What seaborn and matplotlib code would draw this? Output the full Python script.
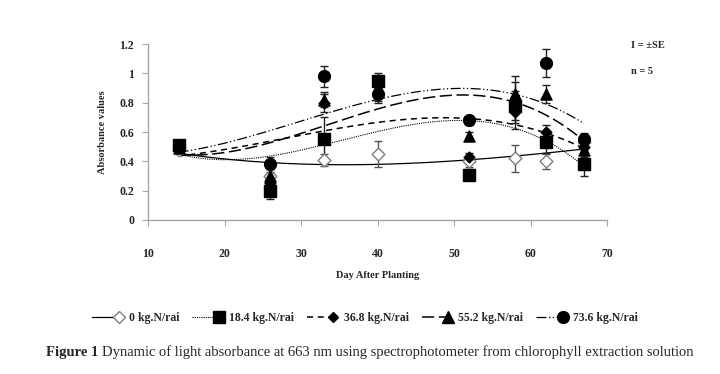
import numpy as np
import matplotlib
matplotlib.use("Agg")
import matplotlib.pyplot as plt
from matplotlib.lines import Line2D
from matplotlib.legend_handler import HandlerLine2D
import seaborn as sns

sns.set_style("white")
plt.rcParams["font.family"] = ["Liberation Serif", "DejaVu Serif"]

days = [14, 26, 33, 40, 52, 58, 62, 67]
labels = ["0 kg.N/rai", "18.4 kg.N/rai", "36.8 kg.N/rai", "55.2 kg.N/rai", "73.6 kg.N/rai"]

n0 = [0.48, 0.30, 0.41, 0.45, 0.40, 0.42, 0.40, 0.53]
n18 = [0.51, 0.20, 0.55, 0.95, 0.31, 0.78, 0.53, 0.38]
n36 = [0.50, 0.25, 0.80, 0.85, 0.43, 0.74, 0.60, 0.50]
n55 = [0.49, 0.30, 0.82, 0.90, 0.57, 0.86, 0.86, 0.48]
n73 = [0.50, 0.38, 0.98, 0.86, 0.68, 0.80, 1.07, 0.55]

se0 = [0.03, 0.05, 0.04, 0.09, 0.04, 0.09, 0.05, 0.05]
se18 = [0.03, 0.06, 0.15, 0.05, 0.04, 0.10, 0.07, 0.08]
se36 = [0.03, 0.05, 0.06, 0.05, 0.03, 0.08, 0.05, 0.05]
se55 = [0.03, 0.05, 0.05, 0.05, 0.03, 0.08, 0.06, 0.05]
se73 = [0.03, 0.05, 0.07, 0.05, 0.03, 0.18, 0.095, 0.04]

series = [n0, n18, n36, n55, n73]
errors = [se0, se18, se36, se55, se73]
markers = ["D", "s", "D", "^", "o"]
msizes = [6.5, 8.5, 5.5, 8, 8.5]
faces = ["white", "black", "black", "black", "black"]
edges = ["#7f7f7f", "black", "black", "black", "black"]
styles = ["-", (0, (1, 1)), (0, (4, 3)), (0, (8, 3)), (0, (8, 2, 1, 2, 1, 2))]
lws = [0.9, 0.8, 1.1, 1.1, 0.9]

fig = plt.figure(figsize=(7.2, 3.74), dpi=100)
ax = fig.add_axes([0.2056, 0.412, 0.6375, 0.47])

xs = np.linspace(min(days), max(days), 200)
for vals, se, m, ms, fc, ec, ls, lw in zip(series, errors, markers, msizes, faces, edges, styles, lws):
    coef = np.polyfit(days, vals, 3)
    sns.lineplot(x=xs, y=np.polyval(coef, xs), ax=ax, color="black", linestyle=ls,
                 linewidth=lw, zorder=2)
    ax.errorbar(days, vals, yerr=se, fmt="none", ecolor="#202020" if fc == "black" else "#555555",
                elinewidth=1, capsize=3, capthick=1, zorder=3)
    sns.scatterplot(x=days, y=vals, ax=ax, marker=m, s=ms ** 2, color=fc,
                    edgecolor=ec, linewidth=1, zorder=4)

ax.set_xlim(10, 70)
ax.set_ylim(0, 1.2)
ax.set_xticks(range(10, 71, 10))
ax.set_yticks([0, 0.2, 0.4, 0.6, 0.8, 1.0, 1.2])
ax.set_yticklabels(["0", "0.2", "0.4", "0.6", "0.8", "1", "1.2"])
for s in ["top", "right"]:
    ax.spines[s].set_visible(False)
for s in ["left", "bottom"]:
    ax.spines[s].set_color("#a6a6a6")
    ax.spines[s].set_linewidth(1)
ax.tick_params(axis="x", direction="out", length=4, color="#a6a6a6", pad=16,
               labelsize=8.5)
ax.tick_params(axis="y", direction="out", length=4, color="#a6a6a6", pad=6,
               labelsize=8.5)
ax.xaxis.set_ticks_position("bottom")
ax.yaxis.set_ticks_position("left")
for t in ax.get_xticklabels() + ax.get_yticklabels():
    t.set_fontweight("bold")
ax.set_xlabel("Day After Planting", fontsize=7.5, fontweight="bold", labelpad=8)
ax.set_ylabel("Absorbance values", fontsize=7.5, fontweight="bold", labelpad=9)

fig.text(0.877, 0.872, "I = \u00b1SE", fontsize=7.5, fontweight="bold")
fig.text(0.877, 0.802, "n = 5", fontsize=7.5, fontweight="bold")


# legend key: line first, marker at its right end
class RightMarker(HandlerLine2D):
    def create_artists(self, legend, orig_handle, xdescent, ydescent, width,
                       height, fontsize, trans):
        y = height / 2 - ydescent
        x0, x1 = -xdescent, -xdescent + width * 0.8
        line = Line2D([x0, x1], [y, y])
        line.update_from(orig_handle)
        line.set_marker("None")
        mk = Line2D([x1], [y])
        mk.update_from(orig_handle)
        mk.set_linestyle("None")
        line.set_transform(trans)
        mk.set_transform(trans)
        return [line, mk]


handles = [Line2D([0], [0], color="black", linestyle=ls, linewidth=lw, marker=m,
                  markersize=ms, markerfacecolor=fc, markeredgecolor=ec)
           for m, ms, fc, ec, ls, lw in zip(markers, msizes, faces, edges, styles, lws)]
fig.legend(handles, labels, loc="center", bbox_to_anchor=(0.507, 0.15), ncol=5,
           frameon=False, handlelength=2.8, handletextpad=0.3,
           columnspacing=1.1, prop={"weight": "bold", "size": 8.5},
           handler_map={h: RightMarker() for h in handles})

fig.text(98 / 720, 0.048, "Figure 1", fontsize=10.5, fontweight="bold", ha="right")
fig.text(102 / 720, 0.048, "Dynamic of light absorbance at 663 nm using spectrophotometer "
         "from chlorophyll extraction solution", fontsize=10.5)

fig.savefig("out.png", dpi=100)
